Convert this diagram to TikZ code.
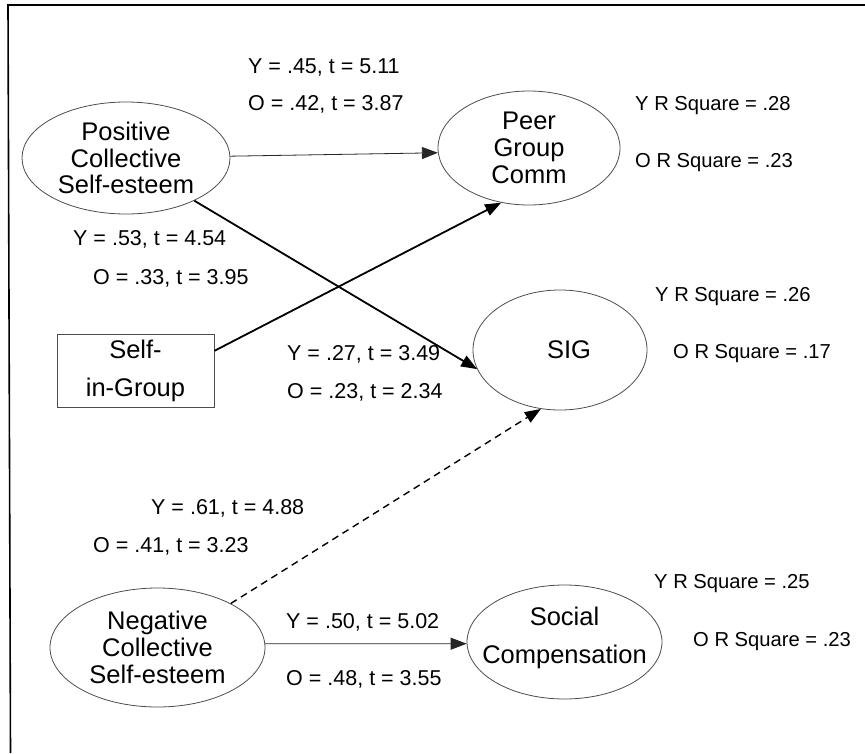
\documentclass[tikz,border=0pt]{standalone}
\usepackage{fontspec}
\setmainfont{Liberation Sans}
\usetikzlibrary{arrows.meta,shapes.geometric}
\begin{document}
\begin{tikzpicture}[x=1pt,y=-1pt,
  latent/.style={ellipse, draw=black!70, line width=0.8pt, inner sep=-40pt, align=center,
    font=\fontsize{25.5}{26.7}\selectfont},
  obsbox/.style={rectangle, draw=black!70, line width=0.9pt, inner sep=3pt, align=center,
    minimum width=157pt, minimum height=73pt, font=\fontsize{25.5}{38}\selectfont},
  lbl/.style={anchor=west, inner sep=0pt, font=\fontsize{21.5}{24}\selectfont},
  rsq/.style={anchor=west, inner sep=0pt, font=\fontsize{20.2}{24}\selectfont},
  tip/.style={-{Triangle[length=16pt,width=12pt]}},
  thinarrow/.style={tip, line width=0.8pt, draw=black!85},
  thickarrow/.style={tip, line width=1.8pt},
  dasharrow/.style={tip, line width=1.4pt, dash pattern=on 7pt off 5pt}
]
\useasboundingbox (0,0) rectangle (865,753);
% frame
\coordinate (ftl) at (8,5);
\coordinate (ftr) at (865,5);
\coordinate (fbl) at (10.5,753);
\draw[line width=1.6pt] (ftr) -- (ftl) -- (fbl);

% nodes
\node[latent, minimum width=208pt, minimum height=112pt] (pcs) at (126,158) {Positive\\Collective\\Self-esteem};
\node[latent, minimum width=182pt, minimum height=114pt] (pgc) at (529,148) {Peer\\Group\\Comm};
\node[latent, minimum width=174pt, minimum height=120pt] (sig) at (560,350) {\hspace*{18pt}SIG};
\node[obsbox] (sing) at (135.5,370.5) {Self-\\in-Group};
\node[latent, minimum width=215pt, minimum height=119pt] (ncs) at (157.5,647.5) {Negative\\Collective\\Self-esteem};
\node[latent, minimum width=195pt, minimum height=114pt, font=\fontsize{25.5}{38}\selectfont, text depth=14pt] (sc) at (564.5,642) {Social\\Compensation};

% connectors
\draw[thinarrow] (pcs.1) -- (pgc.183);
\draw[thickarrow] (pcs.-32) -- (sig.193);
\draw[thickarrow] (sing.14) -- (pgc.243);
\draw[dasharrow] (ncs.31) -- (sig.252);
\draw[thinarrow] (ncs.2.4) -- (sc.181);

% path labels
\node[lbl] (l1) at (248,67) {Y = .45, t = 5.11};
\node[lbl] (l2) at (248,104) {O = .42, t = 3.87};
\node[lbl] (l3) at (73,239) {Y = .53, t = 4.54};
\node[lbl] (l4) at (93,278) {O = .33, t = 3.95};
\node[lbl] (l5) at (287,354) {Y = .27, t = 3.49};
\node[lbl] (l6) at (287,392) {O = .23, t = 2.34};
\node[lbl] (l7) at (151,508) {Y = .61, t = 4.88};
\node[lbl] (l8) at (93,546) {O = .41, t = 3.23};
\node[lbl] (l9) at (286,622) {Y = .50, t = 5.02};
\node[lbl] (l10) at (286,679) {O = .48, t = 3.55};

% R squares
\node[rsq] (r1) at (635,106) {Y R Square = .28};
\node[rsq] (r2) at (635,163) {O R Square = .23};
\node[rsq] (r3) at (655,297) {Y R Square = .26};
\node[rsq] (r4) at (673,354) {O R Square = .17};
\node[rsq] (r5) at (654,584) {Y R Square = .25};
\node[rsq] (r6) at (693,642) {O R Square = .23};
\end{tikzpicture}
\end{document}
